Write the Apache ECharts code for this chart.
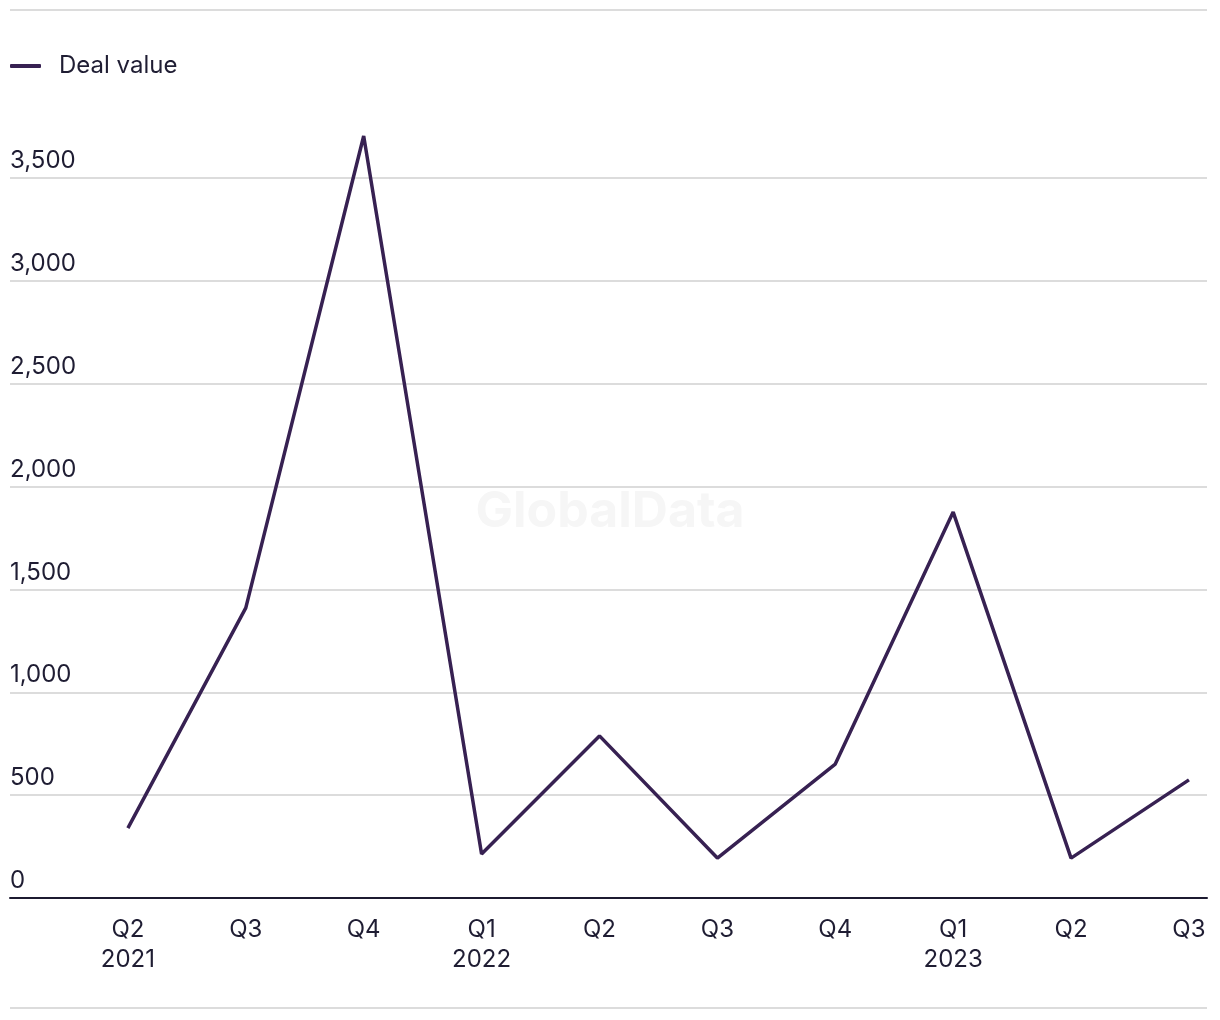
<!DOCTYPE html>
<html>
<head>
<meta charset="utf-8">
<script src="https://cdn.jsdelivr.net/npm/echarts@6/dist/echarts.min.js"></script>
<style>
html,body{margin:0;padding:0;background:#fff;}
#chart{width:1220px;height:1020px;}
</style>
</head>
<body>
<div id="chart"></div>
<script>
const categories = ['Q2\n2021','Q3','Q4','Q1\n2022','Q2','Q3','Q4','Q1\n2023','Q2','Q3'];
const dealValue = [340, 1410, 3704, 214, 788, 194, 651, 1876, 194, 574];
const seriesName = 'Deal value';

const textColor = '#1f1d33';
const font = 'Inter, "Liberation Sans", Arial, sans-serif';

const chart = echarts.init(document.getElementById('chart'));
chart.setOption({
  backgroundColor: '#fff',
  animation: false,
  textStyle: { fontFamily: font },
  legend: {
    left: 10, top: 54, padding: 0,
    icon: 'roundRect', itemWidth: 31, itemHeight: 4,
    textStyle: { color: textColor, fontSize: 24, lineHeight: 24, fontFamily: font, padding: [0,0,0,13] },
    data: [seriesName]
  },
  graphic: [
    { type: 'line', shape: { x1: 10, y1: 10, x2: 1207, y2: 10 }, style: { stroke: '#dcdcdc', lineWidth: 2 } },
    { type: 'line', shape: { x1: 10, y1: 1008, x2: 1207, y2: 1008 }, style: { stroke: '#dcdcdc', lineWidth: 2 } },
    { type: 'text', left: 'center', top: 487, z: -1,
      style: { text: 'GlobalData', fill: '#f6f6f6', font: 'bold 50px ' + font } }
  ],
  grid: { left: 10, right: 13, top: 136, bottom: 122, containLabel: false },
  xAxis: {
    type: 'value', min: -1, max: 9.153, interval: 1,
    axisLine: { show: true, onZero: false, lineStyle: { color: '#1c1a30', width: 2 } },
    axisTick: { show: false },
    splitLine: { show: false },
    axisLabel: {
      color: textColor, fontSize: 24, lineHeight: 30, margin: 17, fontFamily: font,
      showMinLabel: true, showMaxLabel: true,
      formatter: function (v) {
        return (Number.isInteger(v) && v >= 0 && v < categories.length) ? categories[v] : '';
      }
    }
  },
  yAxis: {
    type: 'value', min: 0, max: function (e) { return e.max; }, interval: 500,
    axisLine: { show: false },
    axisTick: { show: false },
    splitLine: { show: true, lineStyle: { color: ['#dcdcdc','#dcdcdc','#dcdcdc','#dcdcdc','#dcdcdc','#dcdcdc','#dcdcdc','#dcdcdc','rgba(0,0,0,0)'], width: 2 } },
    axisLabel: {
      inside: true, margin: 0, showMaxLabel: false,
      verticalAlign: 'bottom', align: 'left',
      color: textColor, fontSize: 24, lineHeight: 24, fontFamily: font, padding: [0,0,5,0],
      formatter: function (v) { return v % 500 === 0 ? v.toLocaleString('en-US') : ''; }
    }
  },
  series: [{
    name: seriesName, type: 'line',
    data: dealValue.map((v, i) => [i, v]),
    showSymbol: false, symbol: 'none',
    lineStyle: { color: '#372152', width: 3.5 },
    itemStyle: { color: '#372152' }
  }]
});
</script>
</body>
</html>
